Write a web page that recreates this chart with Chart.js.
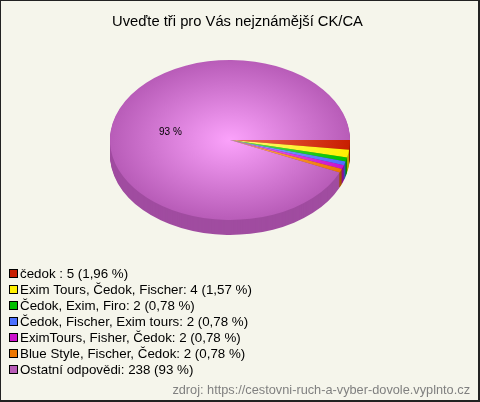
<!DOCTYPE html>
<html>
<head>
<meta charset="utf-8">
<script src="https://cdn.jsdelivr.net/npm/chart.js@4"></script>
<style>
  html, body { margin: 0; padding: 0; background: #f5f5eb; }
  #wrap { position: relative; width: 480px; height: 402px; overflow: hidden; }
  #wrap:after { content: ''; position: absolute; inset: 0; border: 1px solid #222; border-bottom-width: 2px; border-right-width: 2px; }
</style>
</head>
<body>
<div id="wrap"><canvas id="pie" width="480" height="402"></canvas></div>
<script>
const titleText = 'Uveďte tři pro Vás nejznámější CK/CA'
const sourceText = 'zdroj: https://cestovni-ruch-a-vyber-dovole.vyplnto.cz'
const answers = ['čedok', 'Exim Tours, Čedok, Fischer', 'Čedok, Exim, Firo', 'Čedok, Fischer, Exim tours', 'EximTours, Fisher, Čedok', 'Blue Style, Fischer, Čedok', 'Ostatní odpovědi']
const counts = [5, 4, 2, 2, 2, 2, 238]
const legendTexts = ['čedok : 5 (1,96 %)', 'Exim Tours, Čedok, Fischer: 4 (1,57 %)', 'Čedok, Exim, Firo: 2 (0,78 %)', 'Čedok, Fischer, Exim tours: 2 (0,78 %)', 'EximTours, Fisher, Čedok: 2 (0,78 %)', 'Blue Style, Fischer, Čedok: 2 (0,78 %)', 'Ostatní odpovědi: 238 (93 %)']
const sliceColors = ['#c81e00', '#fff000', '#00c000', '#4c70ff', '#cc11cc', '#ee7700', '#b85cb8']
const centerColors = ['#f06a50', '#fff880', '#60e060', '#90a8ff', '#ee70ee', '#ffb060', '#fba2fb']
const sideColors = ['#8c1500', '#b3a800', '#008600', '#354eb3', '#8f0c8f', '#a65300', '#a04ca0']
const bigLabel = '93 %'

const FONT = "'Liberation Sans', Arial, sans-serif"
const PIE_CX = 230   // centre of the top face on the page
const PIE_CY = 140
const SQUASH = 80 / 120
const DEPTH = 15

// every slice is lighter towards the middle, like the original
function sliceGradient(c) {
    const area = c.chart.chartArea
    if (!area) return sliceColors[c.dataIndex]
    const x = (area.left + area.right) / 2
    const y = (area.top + area.bottom) / 2
    const g = c.chart.ctx.createRadialGradient(x, y, 0, x, y, (area.right - area.left) / 2)
    g.addColorStop(0, centerColors[c.dataIndex])
    g.addColorStop(1, sliceColors[c.dataIndex])
    return g
}

const pie3d = {
    id: 'pie3d',
    beforeDatasetsDraw(chart) {
        const ctx = chart.ctx
        const arcs = chart.getDatasetMeta(0).data
        const first = arcs[0]
        ctx.save()
        ctx.translate(PIE_CX - first.x, PIE_CY)
        ctx.scale(1, SQUASH)
        ctx.translate(0, -first.y)
        // side wall: stack of the same arcs shifted down
        for (let d = DEPTH; d > 0; d--) {
            arcs.forEach((arc, i) => {
                ctx.beginPath()
                ctx.moveTo(arc.x, arc.y + d / SQUASH)
                ctx.arc(arc.x, arc.y + d / SQUASH, arc.outerRadius, arc.startAngle, arc.endAngle)
                ctx.closePath()
                ctx.fillStyle = sideColors[i]
                ctx.fill()
            })
        }
    },
    afterDatasetsDraw(chart) {
        const ctx = chart.ctx
        ctx.restore()
        ctx.fillStyle = '#000'
        ctx.font = '10px ' + FONT
        ctx.textAlign = 'left'
        ctx.textBaseline = 'middle'
        ctx.fillText(bigLabel, 159, 132)
    },
    afterDraw(chart) {
        const ctx = chart.ctx
        ctx.save()
        ctx.font = '14.76px ' + FONT
        ctx.fillStyle = '#000'
        ctx.textAlign = 'center'
        ctx.textBaseline = 'middle'
        ctx.fillText(titleText, 237.5, 22)
        ctx.font = '13.33px ' + FONT
        ctx.textAlign = 'left'
        legendTexts.forEach((t, i) => {
            const y = 274 + i * 16
            ctx.fillStyle = sliceColors[i]
            ctx.fillRect(9, y - 5, 9, 9)
            ctx.strokeStyle = '#000'
            ctx.lineWidth = 1
            ctx.strokeRect(9.5, y - 4.5, 8, 8)
            ctx.fillStyle = '#000'
            ctx.fillText(t, 20, y)
        })
        ctx.font = '12.75px ' + FONT
        ctx.fillStyle = '#808080'
        ctx.textAlign = 'right'
        ctx.fillText(sourceText, 470, 390)
        ctx.restore()
    }
}

new Chart(document.getElementById('pie').getContext('2d'), {
    type: 'pie',
    data: {
        labels: answers,
        datasets: [{
            data: counts,
            borderWidth: 0,
            clip: false,
            backgroundColor: sliceGradient
        }]
    },
    plugins: [pie3d],
    options: {
        responsive: false,
        animation: false,
        rotation: 90,
        layout: { padding: { left: 110, right: 130, top: 0, bottom: 120 } },
        plugins: {
            legend: { display: false },
            tooltip: { enabled: false },
            title: { display: false }
        }
    }
})
</script>
</body>
</html>
